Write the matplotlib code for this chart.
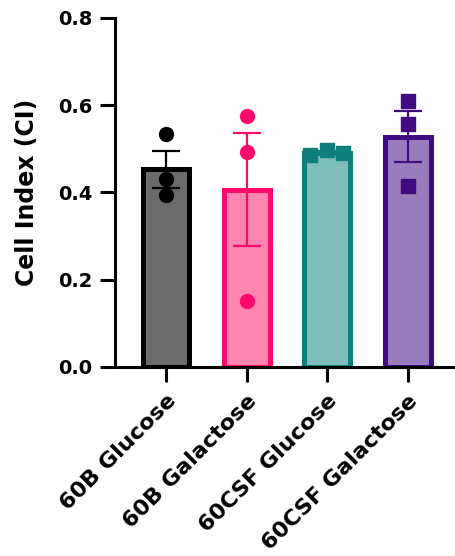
import numpy as np
import matplotlib.pyplot as plt

plt.rcParams['font.family'] = ['DejaVu Sans']
plt.rcParams['font.weight'] = 'bold'

# Data
groups = ["60B Glucose", "60B Galactose", "60CSF Glucose", "60CSF Galactose"]
glc_60b = [0.534, 0.430, 0.394]
gal_60b = [0.574, 0.492, 0.151]
glc_60csf = [0.486, 0.498, 0.490]
gal_60csf = [0.610, 0.557, 0.414]
values = [glc_60b, gal_60b, glc_60csf, gal_60csf]

# styling
fills = ["#6b6b6b", "#ff85b0", "#80bdbd", "#9a7cbd"]
edges = ["#000000", "#ff0a6c", "#0e7f7b", "#3f0a82"]
markers = ["o", "o", "s", "s"]
jitter = [[0, 0, 0], [0, 0, 0], [-0.22, 0, 0.2], [0, 0, 0]]

fig = plt.figure(figsize=(4.56, 5.56), dpi=100)
ax = fig.add_axes([0.252, 0.340, 0.748, 0.628])

x = np.arange(len(groups))
for i, vals in enumerate(values):
    vals = np.array(vals)
    mean = vals.mean()
    sem = vals.std(ddof=1) / np.sqrt(len(vals))
    ax.bar(x[i], mean, width=0.57, color=fills[i], edgecolor=edges[i],
           linewidth=3.6, zorder=2)
    ax.plot(x[i] + np.array(jitter[i]), vals, linestyle="none", marker=markers[i],
            markersize=10, color=edges[i], zorder=3)
    ax.errorbar(x[i], mean, yerr=sem, color=edges[i], capsize=10,
                elinewidth=1.6, capthick=1.6, zorder=4)

ax.set_xlim(-0.64, 3.6)
ax.set_ylim(0, 0.8)
ax.set_yticks([0, 0.2, 0.4, 0.6, 0.8])
ax.set_yticklabels(["0.0", "0.2", "0.4", "0.6", "0.8"])
ax.set_xticks(x)
ax.set_xticklabels(groups, rotation=45, ha="right", rotation_mode="anchor", fontsize=16)
ax.set_ylabel("Cell Index (CI)", fontsize=17, fontweight="bold", labelpad=14)

ax.tick_params(axis="both", width=2.2, length=11)
ax.tick_params(axis="y", labelsize=14, pad=5)
ax.tick_params(axis="x", pad=6)
for s in ["top", "right"]:
    ax.spines[s].set_visible(False)
for s in ["left", "bottom"]:
    ax.spines[s].set_linewidth(2.2)

fig.savefig("out.png", dpi=100)
